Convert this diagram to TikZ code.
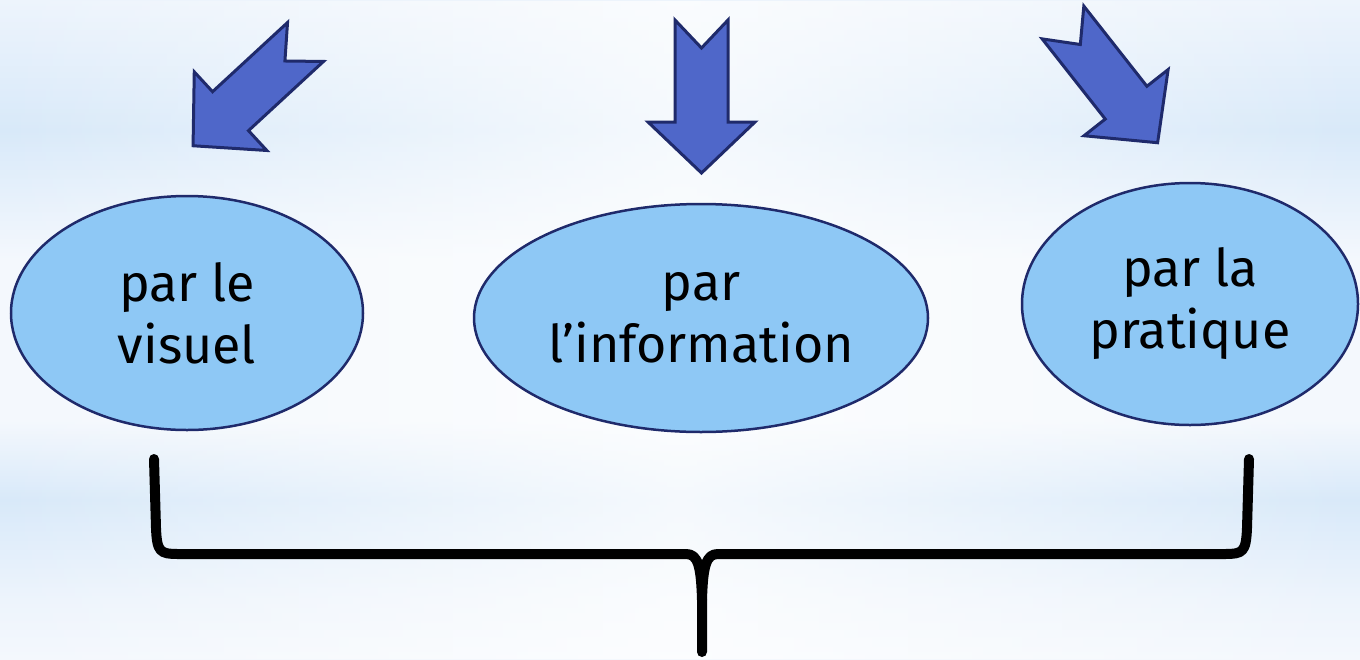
\documentclass[tikz,border=0pt]{standalone}
\usepackage{fontspec}
\setmainfont{Fira Sans}
\usetikzlibrary{shapes.geometric,fadings}
\definecolor{fondhaut}{HTML}{EDF4FC}
\definecolor{fondbleu}{HTML}{D8E9F9}
\definecolor{fondclair}{HTML}{F4F8FD}
\definecolor{bullebleu}{HTML}{8EC8F5}
\definecolor{bordmarine}{HTML}{1F2A6B}
\definecolor{flechebleu}{HTML}{4F67C9}
\pgfdeclareverticalshading{fond}{100bp}{color(0bp)=(fondclair); color(25bp)=(fondclair);
  color(29.5bp)=(fondhaut); color(37.1bp)=(fondbleu); color(43.1bp)=(fondclair);
  color(55.3bp)=(fondclair); color(65.1bp)=(fondbleu); color(75bp)=(fondhaut); color(100bp)=(fondhaut)}
\tikzfading[name=milieu, left color=transparent!100, right color=transparent!100, middle color=transparent!25]
\tikzset{
  bulle/.style={ellipse, draw=bordmarine, line width=2.5pt, fill=bullebleu, inner sep=0pt,
    align=center, font=\fontsize{52}{62}\selectfont},
  fleche/.pic={\draw[draw=bordmarine, line width=3pt, fill=flechebleu, line join=miter]
    (-26.5,0) -- (0,28) -- (26.5,0) -- (26.5,102) -- (53.5,102) -- (0,153) -- (-53.5,102) -- (-26.5,102) -- cycle;},
  accolade/.style={line width=10pt, line cap=round, line join=round}
}
\begin{document}
\begin{tikzpicture}[x=1pt, y=-1pt]
\useasboundingbox (0,0) rectangle (1360,659);
\shade[shading=fond] (0,0) rectangle (1360,659);
\fill[white, path fading=milieu] (0,0) rectangle (1360,659);
\pic[rotate=-47.3] at (305.5,42) {fleche};
\pic at (701.5,20) {fleche};
\pic[rotate=38.2] at (1063,22.5) {fleche};
\node[bulle, minimum width=352pt, minimum height=234pt] (visuel) at (187,313) {par le\\visuel};
\node[bulle, minimum width=454pt, minimum height=228pt] (information) at (701,318) {par\\l’information};
\node[bulle, minimum width=336pt, minimum height=242pt] (pratique) at (1190,304) {par la\\pratique};
\draw[accolade] (154,459) -- (156,528) .. controls (157,552) and (160,554) .. (178,554) -- (686,554)
  .. controls (698,554) and (701,566) .. (702,600) -- (702,652);
\draw[accolade] (1249,459) -- (1247,528) .. controls (1246,552) and (1243,554) .. (1225,554) -- (718,554)
  .. controls (706,554) and (703,566) .. (702,600);
\end{tikzpicture}
\end{document}
